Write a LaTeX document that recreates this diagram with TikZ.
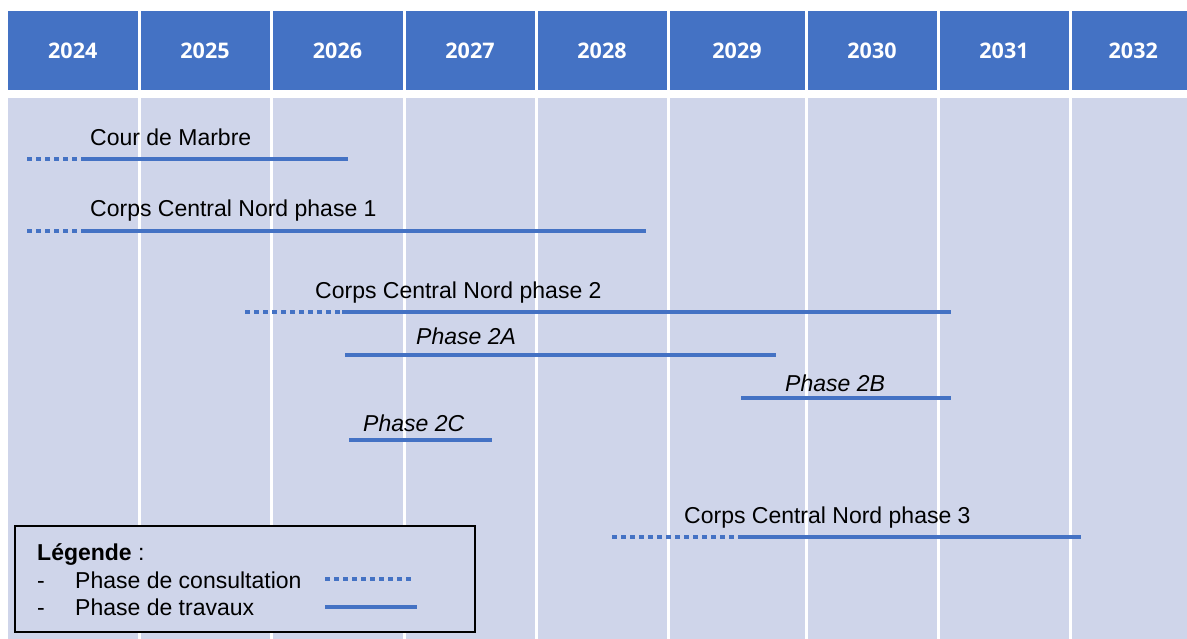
\documentclass[tikz,border=0pt]{standalone}
\usepackage{fontspec}
\setmainfont{Liberation Sans}
\newfontfamily\yearfont{Open Sans}
\usepackage{tikz}
\usetikzlibrary{positioning,calc}
\definecolor{headblue}{RGB}{68,114,196}
\definecolor{bodyblue}{RGB}{207,213,234}
\definecolor{barblue}{RGB}{68,114,196}

\begin{document}
\begin{tikzpicture}[
    x=1pt, y=-1pt,
    hcell/.style={rectangle, fill=headblue, inner sep=0, minimum height=79pt, text=white, font=\yearfont\bfseries\fontsize{21.5}{24}\selectfont},
    bcell/.style={rectangle, fill=bodyblue, inner sep=0, minimum height=545pt, anchor=north},
    lbl/.style={anchor=base west, inner sep=0, font=\fontsize{23}{27}\selectfont},
    ilbl/.style={lbl, font=\fontsize{23}{27}\selectfont\itshape},
    consult/.style={draw=barblue, line width=3.5pt, dash pattern=on 4.5pt off 4.5pt},
    works/.style={draw=barblue, line width=4pt},
    legbox/.style={rectangle, draw=black, fill=bodyblue, line width=1.6pt, inner sep=0, anchor=north west}
]
    \useasboundingbox (0,0) rectangle (1187,638);

    % year columns
    \foreach \l/\r/\yr in {8/137.5/2024, 140.5/269.5/2025, 272.5/402.5/2026, 405.5/534.5/2027,
        537.5/666.5/2028, 669.5/804.5/2029, 807.5/936.5/2030, 939.5/1068.5/2031, 1071.5/1195/2032} {
        \node[hcell, minimum width={(\r-\l)*1pt}] (h\yr) at ({(\l+\r)/2},50.5) {\raisebox{-2.5pt}{\yr}};
        \node[bcell, minimum width={(\r-\l)*1pt}] (b\yr) at ({(\l+\r)/2},98) {};
    }

    % Cour de Marbre
    \node[lbl] (cm) at (90,145) {Cour de Marbre};
    \coordinate (cm0) at (27,159);
    \coordinate (cm1) at (85,159);
    \coordinate (cm2) at (348,159);
    \draw[consult] (cm0) -- (cm1);
    \draw[works] (cm1) -- (cm2);

    % phase 1
    \node[lbl] (p1) at (90,216) {Corps Central Nord phase 1};
    \coordinate (p1a) at (27,231);
    \coordinate (p1b) at (85,231);
    \coordinate (p1c) at (646,231);
    \draw[consult] (p1a) -- (p1b);
    \draw[works] (p1b) -- (p1c);

    % phase 2
    \node[lbl] (p2) at (315,298) {Corps Central Nord phase 2};
    \coordinate (p2a) at (245,312);
    \coordinate (p2b) at (342,312);
    \coordinate (p2c) at (951,312);
    \draw[consult] (p2a) -- (p2b);
    \draw[works] (p2b) -- (p2c);

    \node[ilbl] (p2A) at (416,344) {Phase 2A};
    \coordinate (p2Aa) at (345,355);
    \coordinate (p2Ab) at (776,355);
    \draw[works] (p2Aa) -- (p2Ab);

    \node[ilbl] (p2B) at (785,391) {Phase 2B};
    \coordinate (p2Ba) at (741,398);
    \coordinate (p2Bb) at (951,398);
    \draw[works] (p2Ba) -- (p2Bb);

    \node[ilbl] (p2C) at (363,431) {Phase 2C};
    \coordinate (p2Ca) at (349,440);
    \coordinate (p2Cb) at (492,440);
    \draw[works] (p2Ca) -- (p2Cb);

    % phase 3
    \node[lbl] (p3) at (684,523) {Corps Central Nord phase 3};
    \coordinate (p3a) at (612,537);
    \coordinate (p3b) at (741,537);
    \coordinate (p3c) at (1081,537);
    \draw[consult] (p3a) -- (p3b);
    \draw[works] (p3b) -- (p3c);

    % legend
    \node[legbox, minimum width=460pt, minimum height=106pt] (leg) at (14,525) {};
    \node[lbl] (legt) at (37,560) {\textbf{Légende} :};
    \node[lbl] (d1) at (37,588) {-};
    \node[lbl] (lc) at (75,588) {Phase de consultation};
    \node[lbl] (d2) at (37,615) {-};
    \node[lbl] (lw) at (75,615) {Phase de travaux};
    \coordinate (lca) at (325,579);
    \coordinate (lcb) at (415,579);
    \coordinate (lwa) at (325,607);
    \coordinate (lwb) at (417,607);
    \draw[consult] (lca) -- (lcb);
    \draw[works] (lwa) -- (lwb);
\end{tikzpicture}
\end{document}
